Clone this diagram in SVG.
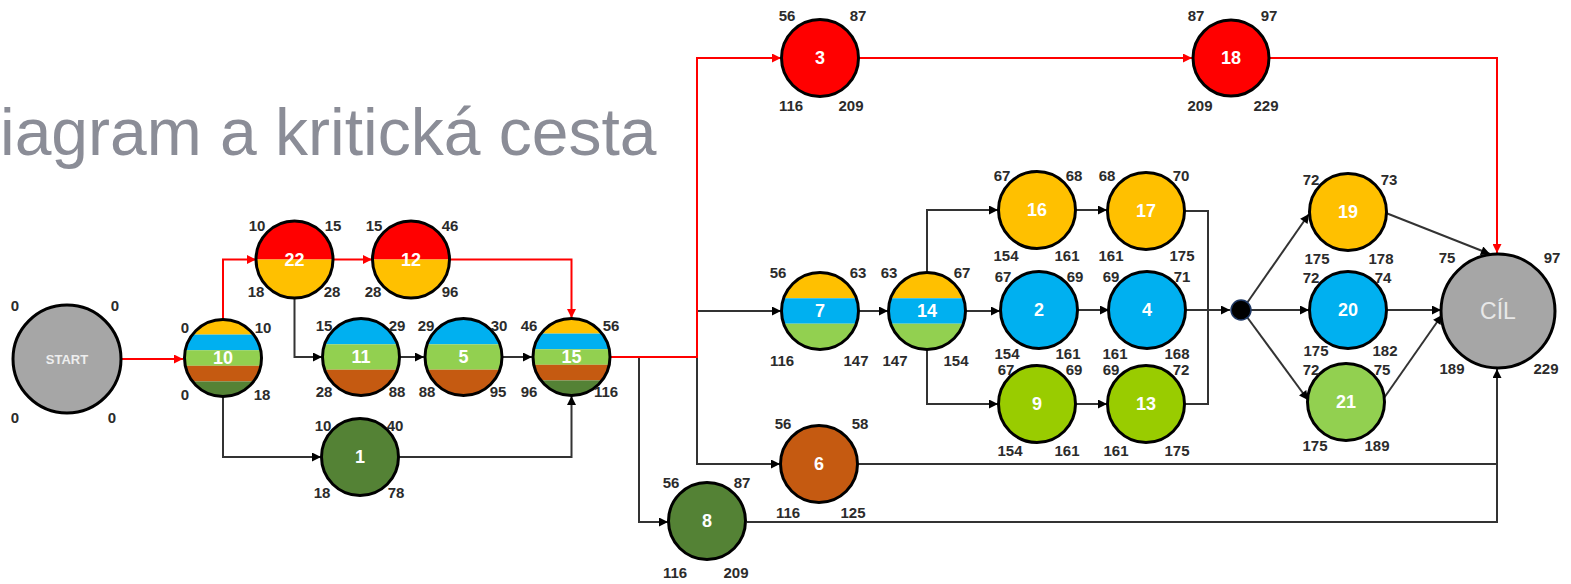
<svg xmlns="http://www.w3.org/2000/svg" width="1571" height="584" viewBox="0 0 1571 584">
<style>
.ring{fill:none;stroke:#000;stroke-width:3}
.lab{font-family:"Liberation Sans",Arial,sans-serif;font-size:15px;font-weight:bold;fill:#2b2b2b;text-anchor:middle;dominant-baseline:central}
.num{font-family:"Liberation Sans",Arial,sans-serif;font-size:18px;font-weight:bold;fill:#fff;text-anchor:middle;dominant-baseline:central}
.k{fill:none;stroke:#333;stroke-width:2}
.r{fill:none;stroke:#f00;stroke-width:2}
.title{font-family:"Liberation Sans",Arial,sans-serif;font-size:66px;fill:#8b8d97}
</style>
<defs>
<clipPath id="c"><circle cx="0" cy="0" r="38.5"/></clipPath>
<marker id="ab" viewBox="0 0 10 10" refX="10" refY="5" markerWidth="10" markerHeight="9" markerUnits="userSpaceOnUse" orient="auto"><path d="M0,0 L10,5 L0,10 z" fill="#000"/></marker>
<marker id="ar" viewBox="0 0 10 10" refX="10" refY="5" markerWidth="10" markerHeight="9" markerUnits="userSpaceOnUse" orient="auto"><path d="M0,0 L10,5 L0,10 z" fill="#f00"/></marker>
</defs>
<rect width="1571" height="584" fill="#fff"/>
<text class="title" x="0" y="155">iagram a kritická cesta</text>

<g id="connectors">
<path class="k" d="M294.5,298 V357 H322" marker-end="url(#ab)"/>
<path class="k" d="M399,357 H424" marker-end="url(#ab)"/>
<path class="k" d="M502,357 H532" marker-end="url(#ab)"/>
<path class="k" d="M223,397 V457 H321" marker-end="url(#ab)"/>
<path class="k" d="M398,457 H571.5 V396" marker-end="url(#ab)"/>
<path class="k" d="M639,357 V522 H668" marker-end="url(#ab)"/>
<path class="k" d="M697,311 H781" marker-end="url(#ab)"/>
<path class="k" d="M697,311 V464 H780" marker-end="url(#ab)"/>
<path class="k" d="M858,311 H888" marker-end="url(#ab)"/>
<path class="k" d="M965,311 H1000" marker-end="url(#ab)"/>
<path class="k" d="M927,273 V210 H998" marker-end="url(#ab)"/>
<path class="k" d="M927,349 V404 H998" marker-end="url(#ab)"/>
<path class="k" d="M1075,210 H1107" marker-end="url(#ab)"/>
<path class="k" d="M1077,310 H1109" marker-end="url(#ab)"/>
<path class="k" d="M1075,404 H1107" marker-end="url(#ab)"/>
<path class="k" d="M1185,211 H1208 V404 H1185"/>
<path class="k" d="M1185,310 H1230" marker-end="url(#ab)"/>
<path class="k" d="M1247,303 L1309,214" marker-end="url(#ab)"/>
<path class="k" d="M1251,310 H1309" marker-end="url(#ab)"/>
<path class="k" d="M1247,317 L1308,400" marker-end="url(#ab)"/>
<path class="k" d="M1386,213 L1490,254" marker-end="url(#ab)"/>
<path class="k" d="M1387,310 H1441" marker-end="url(#ab)"/>
<path class="k" d="M1384,398 L1442,315" marker-end="url(#ab)"/>
<path class="k" d="M857,464 H1497"/>
<path class="k" d="M747,522 H1497 V369" marker-end="url(#ab)"/>
<path class="r" d="M121,359 H183" marker-end="url(#ar)"/>
<path class="r" d="M223,319 V259.5 H256" marker-end="url(#ar)"/>
<path class="r" d="M333,259.5 H372" marker-end="url(#ar)"/>
<path class="r" d="M450,259.5 H571.5 V318" marker-end="url(#ar)"/>
<path class="r" d="M610,357 H697 V58 H781" marker-end="url(#ar)"/>
<path class="r" d="M859,58 H1192" marker-end="url(#ar)"/>
<path class="r" d="M1269,58 H1497 V253" marker-end="url(#ar)"/>
</g>

<g id="nStart">
<circle cx="67" cy="359" r="54" fill="#a6a6a6" stroke="#000" stroke-width="3"/>
<text x="67" y="359" style="font-family:'Liberation Sans',Arial,sans-serif;font-size:13px;font-weight:bold;fill:#eee;text-anchor:middle;dominant-baseline:central">START</text>
<text class="lab" x="15" y="305">0</text><text class="lab" x="115" y="305">0</text>
<text class="lab" x="15" y="417">0</text><text class="lab" x="112" y="417">0</text>
</g>

<g id="n10">
<g transform="translate(223,358)" clip-path="url(#c)">
<rect x="-40" y="-40" width="80" height="16.6" fill="#ffc000"/>
<rect x="-40" y="-23.4" width="80" height="15.6" fill="#00b0f0"/>
<rect x="-40" y="-7.8" width="80" height="15.6" fill="#92d050"/>
<rect x="-40" y="7.8" width="80" height="15.6" fill="#c55a11"/>
<rect x="-40" y="23.4" width="80" height="17" fill="#548235"/>
</g>
<circle class="ring" cx="223" cy="358" r="38.5"/>
<text class="num" x="223" y="358">10</text>
<text class="lab" x="185" y="327">0</text><text class="lab" x="263" y="327">10</text>
<text class="lab" x="185" y="394">0</text><text class="lab" x="262" y="394">18</text>
</g>

<g id="n22">
<g transform="translate(294.5,259.5)" clip-path="url(#c)">
<rect x="-40" y="-40" width="80" height="40" fill="#ff0000"/>
<rect x="-40" y="0" width="80" height="40" fill="#ffc000"/>
</g>
<circle class="ring" cx="294.5" cy="259.5" r="38.5"/>
<text class="num" x="294.5" y="259.5">22</text>
<text class="lab" x="257" y="225">10</text><text class="lab" x="333" y="225">15</text>
<text class="lab" x="256" y="291">18</text><text class="lab" x="332" y="291">28</text>
</g>

<g id="n12">
<g transform="translate(411,259.5)" clip-path="url(#c)">
<rect x="-40" y="-40" width="80" height="40" fill="#ff0000"/>
<rect x="-40" y="0" width="80" height="40" fill="#ffc000"/>
</g>
<circle class="ring" cx="411" cy="259.5" r="38.5"/>
<text class="num" x="411" y="259.5">12</text>
<text class="lab" x="374" y="225">15</text><text class="lab" x="450" y="225">46</text>
<text class="lab" x="373" y="291">28</text><text class="lab" x="450" y="291">96</text>
</g>

<g id="n11">
<g transform="translate(361,357)" clip-path="url(#c)">
<rect x="-40" y="-40" width="80" height="27.3" fill="#00b0f0"/>
<rect x="-40" y="-12.7" width="80" height="25.4" fill="#92d050"/>
<rect x="-40" y="12.7" width="80" height="28" fill="#c55a11"/>
</g>
<circle class="ring" cx="361" cy="357" r="38.5"/>
<text class="num" x="361" y="357">11</text>
<text class="lab" x="324" y="325">15</text><text class="lab" x="397" y="325">29</text>
<text class="lab" x="324" y="391">28</text><text class="lab" x="397" y="391">88</text>
</g>

<g id="n5">
<g transform="translate(463.5,357)" clip-path="url(#c)">
<rect x="-40" y="-40" width="80" height="27.3" fill="#00b0f0"/>
<rect x="-40" y="-12.7" width="80" height="25.4" fill="#92d050"/>
<rect x="-40" y="12.7" width="80" height="28" fill="#c55a11"/>
</g>
<circle class="ring" cx="463.5" cy="357" r="38.5"/>
<text class="num" x="463.5" y="357">5</text>
<text class="lab" x="426" y="325">29</text><text class="lab" x="499" y="325">30</text>
<text class="lab" x="427" y="391">88</text><text class="lab" x="498" y="391">95</text>
</g>

<g id="n15">
<g transform="translate(571.5,357)" clip-path="url(#c)">
<rect x="-40" y="-40" width="80" height="16.6" fill="#ffc000"/>
<rect x="-40" y="-23.4" width="80" height="15.6" fill="#00b0f0"/>
<rect x="-40" y="-7.8" width="80" height="15.6" fill="#92d050"/>
<rect x="-40" y="7.8" width="80" height="15.6" fill="#c55a11"/>
<rect x="-40" y="23.4" width="80" height="17" fill="#548235"/>
</g>
<circle class="ring" cx="571.5" cy="357" r="38.5"/>
<text class="num" x="571.5" y="357">15</text>
<text class="lab" x="529" y="325">46</text><text class="lab" x="611" y="325">56</text>
<text class="lab" x="529" y="391">96</text><text class="lab" x="606" y="391">116</text>
</g>

<g id="n1">
<circle cx="360" cy="457" r="38.5" fill="#548235" stroke="#000" stroke-width="3"/>
<text class="num" x="360" y="457">1</text>
<text class="lab" x="323" y="425">10</text><text class="lab" x="395" y="425">40</text>
<text class="lab" x="322" y="492">18</text><text class="lab" x="396" y="492">78</text>
</g>

<g id="n3">
<circle cx="820" cy="58" r="38.5" fill="#ff0000" stroke="#000" stroke-width="3"/>
<text class="num" x="820" y="58">3</text>
<text class="lab" x="787" y="15">56</text><text class="lab" x="858" y="15">87</text>
<text class="lab" x="791" y="105">116</text><text class="lab" x="851" y="105">209</text>
</g>

<g id="n18">
<circle cx="1231" cy="58" r="38" fill="#ff0000" stroke="#000" stroke-width="3"/>
<text class="num" x="1231" y="58">18</text>
<text class="lab" x="1196" y="15">87</text><text class="lab" x="1269" y="15">97</text>
<text class="lab" x="1200" y="105">209</text><text class="lab" x="1266" y="105">229</text>
</g>

<g id="n7">
<g transform="translate(820,311)" clip-path="url(#c)">
<rect x="-40" y="-40" width="80" height="27.3" fill="#ffc000"/>
<rect x="-40" y="-12.7" width="80" height="25.4" fill="#00b0f0"/>
<rect x="-40" y="12.7" width="80" height="28" fill="#92d050"/>
</g>
<circle class="ring" cx="820" cy="311" r="38.5"/>
<text class="num" x="820" y="311">7</text>
<text class="lab" x="778" y="272">56</text><text class="lab" x="858" y="272">63</text>
<text class="lab" x="782" y="360">116</text><text class="lab" x="856" y="360">147</text>
</g>

<g id="n14">
<g transform="translate(927,311)" clip-path="url(#c)">
<rect x="-40" y="-40" width="80" height="27.3" fill="#ffc000"/>
<rect x="-40" y="-12.7" width="80" height="25.4" fill="#00b0f0"/>
<rect x="-40" y="12.7" width="80" height="28" fill="#92d050"/>
</g>
<circle class="ring" cx="927" cy="311" r="38.5"/>
<text class="num" x="927" y="311">14</text>
<text class="lab" x="889" y="272">63</text><text class="lab" x="962" y="272">67</text>
<text class="lab" x="895" y="360">147</text><text class="lab" x="956" y="360">154</text>
</g>

<g id="n16">
<circle cx="1037" cy="210" r="38.5" fill="#ffc000" stroke="#000" stroke-width="3"/>
<text class="num" x="1037" y="210">16</text>
<text class="lab" x="1002" y="175">67</text><text class="lab" x="1074" y="175">68</text>
<text class="lab" x="1006" y="255">154</text><text class="lab" x="1067" y="255">161</text>
</g>

<g id="n17">
<circle cx="1146" cy="211" r="38.5" fill="#ffc000" stroke="#000" stroke-width="3"/>
<text class="num" x="1146" y="211">17</text>
<text class="lab" x="1107" y="175">68</text><text class="lab" x="1181" y="175">70</text>
<text class="lab" x="1111" y="255">161</text><text class="lab" x="1182" y="255">175</text>
</g>

<g id="n2">
<circle cx="1039" cy="310" r="38.5" fill="#00b0f0" stroke="#000" stroke-width="3"/>
<text class="num" x="1039" y="310">2</text>
<text class="lab" x="1003" y="276">67</text><text class="lab" x="1075" y="276">69</text>
<text class="lab" x="1007" y="353">154</text><text class="lab" x="1068" y="353">161</text>
</g>

<g id="n4">
<circle cx="1147" cy="310" r="38.5" fill="#00b0f0" stroke="#000" stroke-width="3"/>
<text class="num" x="1147" y="310">4</text>
<text class="lab" x="1111" y="276">69</text><text class="lab" x="1182" y="276">71</text>
<text class="lab" x="1115" y="353">161</text><text class="lab" x="1177" y="353">168</text>
</g>

<g id="n9">
<circle cx="1037" cy="404" r="38.5" fill="#99cc00" stroke="#000" stroke-width="3"/>
<text class="num" x="1037" y="404">9</text>
<text class="lab" x="1006" y="369">67</text><text class="lab" x="1074" y="369">69</text>
<text class="lab" x="1010" y="450">154</text><text class="lab" x="1067" y="450">161</text>
</g>

<g id="n13">
<circle cx="1146" cy="404" r="38.5" fill="#99cc00" stroke="#000" stroke-width="3"/>
<text class="num" x="1146" y="404">13</text>
<text class="lab" x="1111" y="369">69</text><text class="lab" x="1181" y="369">72</text>
<text class="lab" x="1116" y="450">161</text><text class="lab" x="1177" y="450">175</text>
</g>

<g id="nDot">
<circle cx="1241" cy="310" r="10" fill="#000" stroke="#1f3864" stroke-width="1.5"/>
</g>

<g id="n19">
<circle cx="1348" cy="212" r="38.5" fill="#ffc000" stroke="#000" stroke-width="3"/>
<text class="num" x="1348" y="212">19</text>
<text class="lab" x="1311" y="179">72</text><text class="lab" x="1389" y="179">73</text>
<text class="lab" x="1317" y="258">175</text><text class="lab" x="1381" y="258">178</text>
</g>

<g id="n20">
<circle cx="1348" cy="310" r="38.5" fill="#00b0f0" stroke="#000" stroke-width="3"/>
<text class="num" x="1348" y="310">20</text>
<text class="lab" x="1311" y="277">72</text><text class="lab" x="1383" y="277">74</text>
<text class="lab" x="1316" y="350">175</text><text class="lab" x="1385" y="350">182</text>
</g>

<g id="n21">
<circle cx="1346" cy="402" r="38.5" fill="#92d050" stroke="#000" stroke-width="3"/>
<text class="num" x="1346" y="402">21</text>
<text class="lab" x="1311" y="369">72</text><text class="lab" x="1382" y="369">75</text>
<text class="lab" x="1315" y="445">175</text><text class="lab" x="1377" y="445">189</text>
</g>

<g id="nCil">
<circle cx="1498" cy="311" r="57" fill="#a6a6a6" stroke="#000" stroke-width="3"/>
<text x="1498" y="311" style="font-family:'Liberation Sans',Arial,sans-serif;font-size:23px;fill:#e8e8e8;text-anchor:middle;dominant-baseline:central">CÍL</text>
<text class="lab" x="1447" y="257">75</text><text class="lab" x="1552" y="257">97</text>
<text class="lab" x="1452" y="368">189</text><text class="lab" x="1546" y="368">229</text>
</g>

<g id="n6">
<circle cx="819" cy="464" r="38.5" fill="#c55a11" stroke="#000" stroke-width="3"/>
<text class="num" x="819" y="464">6</text>
<text class="lab" x="783" y="423">56</text><text class="lab" x="860" y="423">58</text>
<text class="lab" x="788" y="512">116</text><text class="lab" x="853" y="512">125</text>
</g>

<g id="n8">
<circle cx="707" cy="521" r="38.5" fill="#548235" stroke="#000" stroke-width="3"/>
<text class="num" x="707" y="521">8</text>
<text class="lab" x="671" y="482">56</text><text class="lab" x="742" y="482">87</text>
<text class="lab" x="675" y="572">116</text><text class="lab" x="736" y="572">209</text>
</g>
</svg>
